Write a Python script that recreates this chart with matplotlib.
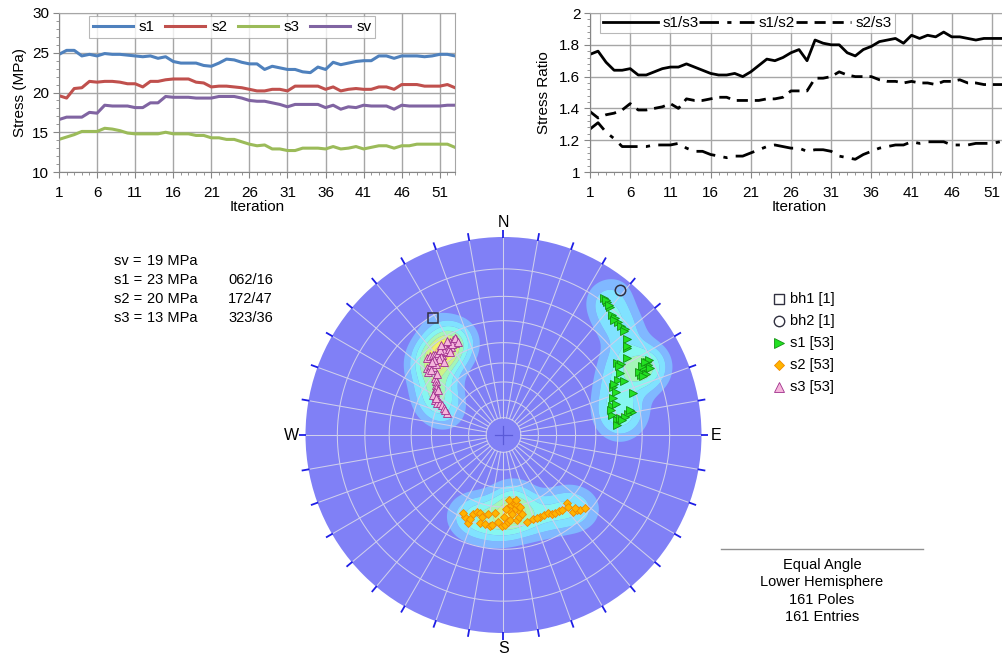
import numpy as np
import matplotlib
matplotlib.use('Agg')
import matplotlib.pyplot as plt
from matplotlib.patches import Circle
from matplotlib.lines import Line2D

plt.rcParams['font.family'] = ['Liberation Sans', 'DejaVu Sans']

# ---------------- data ----------------
iterations = np.arange(1, 54)
x_ticks = [1, 6, 11, 16, 21, 26, 31, 36, 41, 46, 51]

s1 = [24.8, 25.3, 25.3, 24.6, 24.8, 24.6, 24.9, 24.8, 24.8, 24.7, 24.6, 24.5, 24.6, 24.3, 24.5,
      23.9, 23.7, 23.7, 23.7, 23.4, 23.3, 23.7, 24.2, 24.1, 23.8, 23.6, 23.6, 22.9, 23.3, 23.1,
      22.9, 22.9, 22.6, 22.5, 23.2, 22.9, 23.8, 23.5, 23.7, 23.9, 24.0, 24.0, 24.6, 24.6, 24.3,
      24.6, 24.6, 24.6, 24.5, 24.6, 24.8, 24.8, 24.6]
s2 = [19.6, 19.3, 20.5, 20.6, 21.4, 21.3, 21.4, 21.4, 21.3, 21.1, 21.1, 20.7, 21.4, 21.4, 21.6,
      21.7, 21.7, 21.7, 21.3, 21.2, 20.7, 20.8, 20.8, 20.7, 20.6, 20.4, 20.2, 20.2, 20.4, 20.4,
      20.2, 20.8, 20.8, 20.8, 20.8, 20.4, 20.7, 20.2, 20.4, 20.5, 20.4, 20.4, 20.7, 20.7, 20.4,
      21.0, 21.0, 21.0, 20.8, 20.8, 20.8, 21.0, 20.6]
s3 = [14.1, 14.4, 14.7, 15.1, 15.1, 15.1, 15.5, 15.4, 15.2, 14.9, 14.8, 14.8, 14.8, 14.8, 15.0,
      14.8, 14.8, 14.8, 14.6, 14.6, 14.3, 14.3, 14.1, 14.1, 13.8, 13.5, 13.3, 13.4, 12.9, 12.9,
      12.7, 12.7, 13.0, 13.0, 13.0, 12.9, 13.2, 12.9, 13.0, 13.2, 12.9, 13.1, 13.3, 13.3, 13.0,
      13.3, 13.3, 13.5, 13.5, 13.5, 13.5, 13.5, 13.1]
sv = [16.6, 16.9, 16.9, 16.9, 17.5, 17.4, 18.4, 18.3, 18.3, 18.3, 18.1, 18.1, 18.7, 18.7, 19.5,
      19.4, 19.4, 19.4, 19.3, 19.3, 19.3, 19.5, 19.5, 19.5, 19.3, 19.0, 18.9, 18.9, 18.7, 18.5,
      18.2, 18.5, 18.5, 18.5, 18.5, 18.1, 18.4, 17.9, 18.2, 18.1, 18.4, 18.3, 18.3, 18.3, 17.9,
      18.4, 18.3, 18.3, 18.3, 18.3, 18.3, 18.4, 18.4]

r13 = [1.74, 1.76, 1.69, 1.64, 1.64, 1.65, 1.61, 1.61, 1.63, 1.65, 1.66, 1.66, 1.68, 1.66, 1.64,
       1.62, 1.61, 1.61, 1.62, 1.60, 1.63, 1.67, 1.71, 1.70, 1.72, 1.75, 1.77, 1.70, 1.83, 1.81,
       1.80, 1.80, 1.75, 1.73, 1.77, 1.79, 1.82, 1.83, 1.84, 1.81, 1.86, 1.84, 1.86, 1.85, 1.88,
       1.85, 1.85, 1.84, 1.83, 1.84, 1.84, 1.84, 1.84]
r12 = [1.27, 1.31, 1.25, 1.21, 1.16, 1.16, 1.16, 1.16, 1.17, 1.17, 1.17, 1.18, 1.15, 1.13, 1.13,
       1.11, 1.10, 1.09, 1.10, 1.10, 1.12, 1.14, 1.16, 1.17, 1.16, 1.15, 1.15, 1.13, 1.14, 1.14,
       1.13, 1.10, 1.09, 1.08, 1.11, 1.13, 1.15, 1.16, 1.17, 1.17, 1.19, 1.18, 1.19, 1.19, 1.19,
       1.17, 1.17, 1.17, 1.18, 1.18, 1.18, 1.19, 1.19]
r23 = [1.38, 1.34, 1.36, 1.37, 1.39, 1.43, 1.39, 1.39, 1.40, 1.41, 1.43, 1.40, 1.46, 1.45, 1.45,
       1.46, 1.47, 1.47, 1.45, 1.45, 1.45, 1.45, 1.46, 1.46, 1.47, 1.51, 1.51, 1.51, 1.59, 1.59,
       1.60, 1.63, 1.61, 1.60, 1.60, 1.60, 1.58, 1.57, 1.57, 1.56, 1.57, 1.56, 1.56, 1.55, 1.57,
       1.57, 1.58, 1.56, 1.56, 1.55, 1.55, 1.55, 1.55]

# stereonet poles, projected (equal-angle) coordinates: east, north (primitive radius = 1)
s1_pole_e = [0.508, 0.523, 0.538, 0.548, 0.563, 0.578, 0.593, 0.614, 0.624, 0.624, 0.624, 0.573,
             0.593, 0.725, 0.720, 0.715, 0.705, 0.694, 0.730, 0.710, 0.588, 0.578, 0.609, 0.553,
             0.568, 0.654, 0.553, 0.548, 0.568, 0.649, 0.629, 0.548, 0.573, 0.588, 0.614, 0.573,
             0.735, 0.740, 0.700, 0.720, 0.684, 0.518, 0.533, 0.558, 0.609, 0.583, 0.558, 0.543,
             0.639, 0.598, 0.624, 0.715, 0.705]
s1_pole_n = [0.692, 0.672, 0.646, 0.606, 0.591, 0.571, 0.551, 0.535, 0.485, 0.439, 0.389, 0.364,
             0.359, 0.369, 0.348, 0.328, 0.318, 0.303, 0.354, 0.338, 0.313, 0.278, 0.273, 0.242,
             0.217, 0.212, 0.187, 0.146, 0.157, 0.116, 0.106, 0.101, 0.076, 0.086, 0.091, 0.051,
             0.379, 0.338, 0.348, 0.308, 0.318, 0.682, 0.657, 0.581, 0.525, 0.348, 0.258, 0.126,
             0.126, 0.076, 0.449, 0.369, 0.298]
s2_pole_e = [-0.194, -0.179, -0.154, -0.134, -0.119, -0.109, -0.119, -0.093, -0.068, -0.058, -0.043,
             -0.008, 0.008, 0.023, 0.033, 0.023, 0.038, 0.048, 0.058, 0.068, 0.073, 0.053, 0.033,
             0.013, 0.068, 0.078, 0.083, 0.119, 0.149, 0.184, 0.205, 0.225, 0.245, 0.260, 0.280,
             0.295, 0.321, 0.326, 0.351, 0.371, 0.386, 0.412, -0.205, -0.169, -0.078, -0.028,
             0.043, 0.028, 0.063, 0.093, 0.169, 0.361, 0.003]
s2_pole_n = [-0.414, -0.444, -0.399, -0.389, -0.394, -0.414, -0.444, -0.449, -0.460, -0.455, -0.394,
             -0.460, -0.455, -0.439, -0.429, -0.369, -0.354, -0.338, -0.348, -0.354, -0.379, -0.379,
             -0.384, -0.374, -0.429, -0.414, -0.364, -0.439, -0.424, -0.414, -0.404, -0.394, -0.399,
             -0.394, -0.384, -0.379, -0.343, -0.364, -0.389, -0.379, -0.379, -0.369, -0.394, -0.424,
             -0.399, -0.439, -0.399, -0.328, -0.328, -0.399, -0.419, -0.369, -0.414]
s3_pole_e = [-0.386, -0.371, -0.356, -0.346, -0.331, -0.311, -0.295, -0.306, -0.280, -0.290, -0.270,
             -0.255, -0.240, -0.245, -0.265, -0.285, -0.300, -0.321, -0.275, -0.260, -0.316, -0.326,
             -0.386, -0.371, -0.356, -0.341, -0.381, -0.366, -0.346, -0.341, -0.341, -0.341, -0.346,
             -0.341, -0.346, -0.336, -0.321, -0.311, -0.300, -0.285, -0.295, -0.356, -0.336, -0.351,
             -0.285, -0.245, -0.270, -0.230, -0.300, -0.341, -0.331, -0.316, -0.361]
s3_pole_n = [0.389, 0.399, 0.404, 0.404, 0.414, 0.404, 0.419, 0.439, 0.455, 0.449, 0.470, 0.480,
             0.485, 0.465, 0.444, 0.429, 0.424, 0.429, 0.434, 0.460, 0.394, 0.384, 0.338, 0.348,
             0.343, 0.359, 0.318, 0.328, 0.288, 0.273, 0.253, 0.237, 0.217, 0.197, 0.177, 0.162,
             0.162, 0.152, 0.136, 0.111, 0.126, 0.202, 0.308, 0.379, 0.475, 0.490, 0.419, 0.470,
             0.369, 0.187, 0.227, 0.455, 0.369]
bh1_e, bh1_n = [-0.356], [0.591]
bh2_e, bh2_n = [0.588], [0.732]

summary_lines = ["sv =", "s1 =", "s2 =", "s3 ="]
summary_vals = ["19 MPa", "23 MPa", "20 MPa", "13 MPa"]
summary_orient = ["", "062/16", "172/47", "323/36"]
legend_labels = ["bh1 [1]", "bh2 [1]", "s1 [53]", "s2 [53]", "s3 [53]"]
info_lines = ["Equal Angle", "Lower Hemisphere", "161 Poles", "161 Entries"]

# ---------------- figure ----------------
W, H = 1003, 655
fig = plt.figure(figsize=(W / 100, H / 100), dpi=100)


def px_rect(x0, y0, x1, y1):
    return [x0 / W, 1 - y1 / H, (x1 - x0) / W, (y1 - y0) / H]


def fx(x):
    return x / W


def fy(y):
    return 1 - y / H


def style_line_axes(ax, ylim, yticks, yminor):
    ax.set_xlim(1, 53)
    ax.set_ylim(*ylim)
    ax.set_xticks(x_ticks)
    ax.set_xticks(np.arange(1, 54), minor=True)
    ax.set_yticks(yticks)
    ax.set_yticks(yminor, minor=True)
    ax.grid(True, which='major', color='#a6a6a6', lw=1.0)
    ax.set_axisbelow(True)
    for sp in ax.spines.values():
        sp.set_color('#a6a6a6')
    ax.spines['left'].set_color('#868686')
    ax.spines['bottom'].set_color('#868686')
    ax.tick_params(which='major', length=4, width=0.8, color='#868686', labelsize=11, pad=3)
    ax.tick_params(which='minor', length=2.5, width=0.6, color='#868686')
    ax.tick_params(axis='x', which='major', pad=6)
    ax.set_xlabel('Iteration', fontsize=11, labelpad=0)


# left chart
ax1 = fig.add_axes(px_rect(59, 13, 455, 172))
ax1.plot(iterations, s1, color='#4F81BD', lw=2.2, label='s1')
ax1.plot(iterations, s2, color='#C0504D', lw=2.2, label='s2')
ax1.plot(iterations, s3, color='#9BBB59', lw=2.2, label='s3')
ax1.plot(iterations, sv, color='#8064A2', lw=2.2, label='sv')
style_line_axes(ax1, (10, 30), [10, 15, 20, 25, 30], np.arange(10, 31, 1))
ax1.set_ylabel('Stress (MPa)', fontsize=11, labelpad=4)
leg1 = ax1.legend(loc='lower left', bbox_to_anchor=(0.076, 0.843, 0.722, 0.126), mode='expand',
                  ncol=4, fontsize=11, frameon=True, fancybox=False, edgecolor='#a6a6a6',
                  handlelength=2.6, handletextpad=0.4, borderpad=0.25, columnspacing=0.8,
                  borderaxespad=0)
leg1.get_frame().set_linewidth(0.8)

# right chart (its right edge runs off the figure, as in the original)
ax2 = fig.add_axes(px_rect(590, 13, 1008, 172))
ax2.plot(iterations, r13, color='black', lw=2.0, ls='-', label='s1/s3')
ax2.plot(iterations, r12, color='black', lw=2.0, ls=(0, (7, 3, 1.5, 3)), label='s1/s2')
ax2.plot(iterations, r23, color='black', lw=2.0, ls=(0, (4, 2.5)), label='s2/s3')
style_line_axes(ax2, (1, 2), [1, 1.2, 1.4, 1.6, 1.8, 2], np.arange(1, 2.001, 0.04))
ax2.set_yticklabels(['1', '1.2', '1.4', '1.6', '1.8', '2'])
ax2.set_ylabel('Stress Ratio', fontsize=11, labelpad=6)
leg2 = ax2.legend(loc='lower left', bbox_to_anchor=(0.024, 0.874, 0.705, 0.126), mode='expand',
                  ncol=3, fontsize=11, frameon=True, fancybox=False, edgecolor='#a6a6a6',
                  handlelength=3.6, handletextpad=0.3, borderpad=0.2, columnspacing=0.8,
                  borderaxespad=0)
leg2.get_frame().set_linewidth(0.8)

# ---------------- stereonet ----------------
R_EXT = 1.101
ax3 = fig.add_axes(px_rect(503.5 - 218, 435 - 218, 503.5 + 218, 435 + 218))
ax3.set_xlim(-R_EXT, R_EXT)
ax3.set_ylim(-R_EXT, R_EXT)
ax3.set_aspect('equal')
ax3.axis('off')

disk = Circle((0, 0), 1.0, facecolor='#8080F6', edgecolor='none', zorder=0)
ax3.add_patch(disk)

# density contours
all_e = np.array(s1_pole_e + s2_pole_e + s3_pole_e + bh1_e + bh2_e)
all_n = np.array(s1_pole_n + s2_pole_n + s3_pole_n + bh1_n + bh2_n)
g = np.linspace(-1, 1, 401)
GX, GY = np.meshgrid(g, g)
sigma = 0.068
D = np.zeros_like(GX)
for e, n in zip(all_e, all_n):
    D += np.exp(-((GX - e) ** 2 + (GY - n) ** 2) / (2 * sigma ** 2))
D = D / D.max()
levels = [0.07, 0.17, 0.3, 0.45, 0.6, 0.74, 0.88, 10]
cols = ['#80B8FF', '#80E2FF', '#86F6F0', '#A4F6B8', '#CCF488', '#F2F266', '#F8C880']
cf = ax3.contourf(GX, GY, D, levels=levels, colors=cols, zorder=1, antialiased=True)
cf.set_clip_path(disk)

# polar grid
grid_col = '#CFCFEC'
plunges = np.arange(10, 90, 10)
t = np.linspace(0, 2 * np.pi, 400)
r_in = np.tan(np.radians((90 - 80) / 2))
for p in plunges:
    r = np.tan(np.radians((90 - p) / 2))
    ax3.plot(r * np.cos(t), r * np.sin(t), color=grid_col, lw=0.75, zorder=2)
for az in np.arange(0, 360, 10):
    a = np.radians(az)
    ax3.plot([r_in * np.sin(a), np.sin(a)], [r_in * np.cos(a), np.cos(a)],
             color=grid_col, lw=0.75, zorder=2)
# center cross
ax3.plot([-0.045, 0.045], [0, 0], color='#5A5AD8', lw=0.9, zorder=2)
ax3.plot([0, 0], [-0.045, 0.045], color='#5A5AD8', lw=0.9, zorder=2)
# rim ticks
for az in np.arange(0, 360, 10):
    a = np.radians(az)
    ax3.plot([0.995 * np.sin(a), 1.035 * np.sin(a)], [0.995 * np.cos(a), 1.035 * np.cos(a)],
             color='#1E1EE6', lw=1.3, zorder=3, solid_capstyle='butt')

for lab, (e, n) in zip(['N', 'E', 'S', 'W'], [(0, 1.072), (1.072, 0), (0, -1.078), (-1.073, 0)]):
    ax3.text(e, n, lab, fontsize=11.5, ha='center', va='center', zorder=5)

# poles
ax3.plot(s1_pole_e, s1_pole_n, ls='none', marker='>', ms=6.4, mfc='#22E022', mec='#129012',
         mew=0.6, zorder=4)
ax3.plot(s2_pole_e, s2_pole_n, ls='none', marker='D', ms=4.3, mfc='#FFB400', mec='#F08800',
         mew=0.6, zorder=4)
ax3.plot(s3_pole_e, s3_pole_n, ls='none', marker='^', ms=6.4, mfc='#F6B6DC', mec='#A0308C',
         mew=0.6, zorder=4)
ax3.plot(bh1_e, bh1_n, ls='none', marker='s', ms=7, mfc='none', mec='#303040', mew=1.1, zorder=4)
ax3.plot(bh2_e, bh2_n, ls='none', marker='o', ms=7.5, mfc='none', mec='#303040', mew=1.1, zorder=4)

# summary text (top-left of stereonet)
rows_y = [261, 280, 299, 318]
for lbl, val, ori, y in zip(summary_lines, summary_vals, summary_orient, rows_y):
    fig.text(fx(142), fy(y), lbl, ha='right', va='center', fontsize=10.5)
    fig.text(fx(147), fy(y), val, ha='left', va='center', fontsize=10.5)
    if ori:
        fig.text(fx(228), fy(y), ori, ha='left', va='center', fontsize=10.5)

# pole legend
leg_y = [299, 321, 343, 365, 387]
leg_styles = [dict(marker='s', ms=7, mfc='none', mec='#303040', mew=1.0),
              dict(marker='o', ms=7.5, mfc='none', mec='#303040', mew=1.0),
              dict(marker='>', ms=6.5, mfc='#22E022', mec='#129012', mew=0.6),
              dict(marker='D', ms=4.6, mfc='#FFB400', mec='#F08800', mew=0.6),
              dict(marker='^', ms=6.5, mfc='#F6B6DC', mec='#A0308C', mew=0.6)]
for lab, y, st in zip(legend_labels, leg_y, leg_styles):
    fig.add_artist(Line2D([fx(779)], [fy(y)], ls='none', transform=fig.transFigure, **st))
    fig.text(fx(790), fy(y), lab, ha='left', va='center', fontsize=10.5)

# info block
fig.add_artist(Line2D([fx(721), fx(923)], [fy(549), fy(549)], color='#909090', lw=1.0,
                      transform=fig.transFigure))
for i, line in enumerate(info_lines):
    fig.text(fx(822), fy(565 + 17.3 * i), line, ha='center', va='center', fontsize=10.5)

fig.savefig('out.png', dpi=100)
